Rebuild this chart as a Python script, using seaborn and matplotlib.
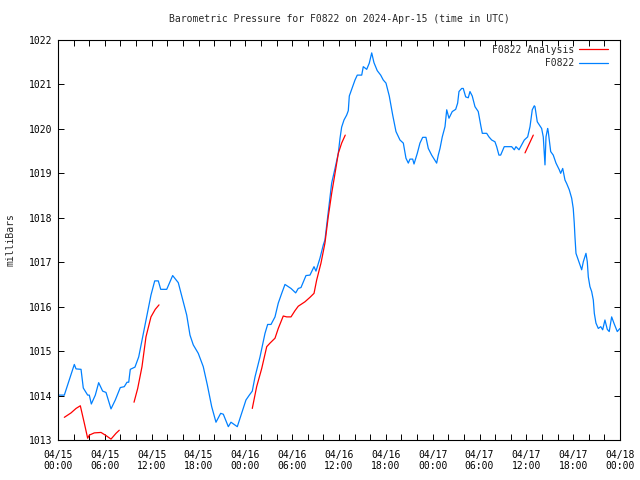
import matplotlib
matplotlib.use('Agg')
import matplotlib.pyplot as plt
from matplotlib.lines import Line2D
import seaborn as sns
import pandas as pd

# hours since 2024-04-15 00:00 UTC, pressure in millibars
obs_hours = [0.09, 0.81, 2.09, 2.31, 2.95, 3.24, 3.80, 4.01, 4.27, 4.78, 5.21, 5.72, 6.15, 6.79, 7.34,
             7.98, 8.49, 8.84, 9.06, 9.26, 9.86, 10.34, 10.85, 11.36, 11.91, 12.39, 12.85, 13.16, 13.93,
             14.69, 15.41, 16.05, 16.49, 16.91, 17.33, 17.97, 18.61, 19.13, 19.69, 20.24, 20.84, 21.18,
             21.82, 22.16, 22.97, 23.53, 24.08, 24.51, 24.89, 25.24, 25.88, 26.52, 26.86, 27.29, 27.80,
             28.22, 28.66, 29.08, 29.85, 30.45, 30.78, 31.13, 31.77, 32.28, 32.80, 33.05, 33.56, 33.99,
             34.20, 34.55, 35.06, 35.49, 35.91, 36.13, 36.34, 36.64, 36.98, 37.19, 37.32, 37.75, 38.05,
             38.34, 38.91, 39.11, 39.55, 39.88, 40.19, 40.48, 40.90, 41.34, 41.67, 42.02, 42.44, 42.88,
             43.30, 43.81, 44.24, 44.58, 44.88, 45.09, 45.44, 45.61, 46.03, 46.37, 46.72, 47.14, 47.44,
             47.87, 48.51, 48.72, 48.94, 49.23, 49.58, 49.80, 50.09, 50.51, 50.95, 51.20, 51.37, 51.72,
             51.92, 52.23, 52.56, 52.78, 53.07, 53.42, 53.84, 54.19, 54.36, 54.92, 55.21, 55.56, 55.98,
             56.20, 56.49, 56.71, 57.17, 58.12, 58.46, 58.67, 59.06, 59.40, 59.74, 60.17, 60.47, 60.76,
             61.02, 61.11, 61.40, 61.96, 62.17, 62.30, 62.39, 62.52, 62.73, 62.81, 63.12, 63.45, 63.80,
             64.22, 64.40, 64.66, 64.95, 65.17, 65.50, 65.81, 66.01, 66.14, 66.23, 66.36, 66.65, 67.09,
             67.30, 67.64, 67.81, 67.94, 68.15, 68.37, 68.58, 68.71, 68.92, 69.22, 69.53, 69.78, 70.07,
             70.37, 70.62, 70.93, 71.22, 71.65, 72.00]
obs_mbar = [1014.01, 1014.01, 1014.70, 1014.60, 1014.59, 1014.17, 1014.01, 1014.01, 1013.81, 1014.01,
            1014.29, 1014.10, 1014.07, 1013.70, 1013.90, 1014.18, 1014.20, 1014.30, 1014.30, 1014.59,
            1014.64, 1014.87, 1015.32, 1015.77, 1016.26, 1016.58, 1016.58, 1016.39, 1016.39, 1016.70,
            1016.54, 1016.11, 1015.81, 1015.36, 1015.14, 1014.95, 1014.65, 1014.24, 1013.75, 1013.40,
            1013.60, 1013.58, 1013.30, 1013.40, 1013.30, 1013.60, 1013.90, 1014.01, 1014.10, 1014.42,
            1014.87, 1015.40, 1015.60, 1015.60, 1015.77, 1016.08, 1016.30, 1016.50, 1016.41, 1016.31,
            1016.41, 1016.43, 1016.70, 1016.71, 1016.90, 1016.80, 1017.09, 1017.39, 1017.50, 1018.02,
            1018.78, 1019.11, 1019.45, 1019.79, 1020.04, 1020.20, 1020.31, 1020.41, 1020.74, 1020.95,
            1021.10, 1021.21, 1021.21, 1021.40, 1021.34, 1021.48, 1021.71, 1021.49, 1021.31, 1021.21,
            1021.10, 1021.03, 1020.74, 1020.31, 1019.94, 1019.75, 1019.68, 1019.34, 1019.23, 1019.32,
            1019.32, 1019.21, 1019.45, 1019.68, 1019.81, 1019.81, 1019.56, 1019.41, 1019.23, 1019.41,
            1019.56, 1019.82, 1020.05, 1020.43, 1020.24, 1020.39, 1020.44, 1020.58, 1020.84, 1020.91,
            1020.91, 1020.72, 1020.70, 1020.84, 1020.74, 1020.50, 1020.39, 1020.05, 1019.90, 1019.90,
            1019.82, 1019.75, 1019.71, 1019.60, 1019.41, 1019.41, 1019.60, 1019.60, 1019.53, 1019.60,
            1019.53, 1019.64, 1019.75, 1019.82, 1020.05, 1020.43, 1020.52, 1020.50, 1020.16, 1020.01,
            1019.82, 1019.45, 1019.19, 1019.82, 1020.01, 1019.94, 1019.49, 1019.41, 1019.23, 1019.08,
            1019.00, 1019.11, 1018.85, 1018.77, 1018.63, 1018.44, 1018.21, 1017.88, 1017.57, 1017.20,
            1017.05, 1016.83, 1017.01, 1017.20, 1017.01, 1016.67, 1016.45, 1016.34, 1016.15, 1015.85,
            1015.63, 1015.51, 1015.55, 1015.48, 1015.70, 1015.49, 1015.44, 1015.77, 1015.63, 1015.44,
            1015.51]

# analysis runs, one segment id per run
ana_run = [1] * 13 + [2] * 7 + [3] * 24 + [4] * 2
ana_hours = [0.81, 1.67, 2.31, 2.86, 3.37, 3.80, 4.01, 4.65, 5.51, 6.15, 6.79, 7.43, 7.85,
             9.74, 10.21, 10.76, 11.27, 11.91, 12.46, 12.94,
             24.89, 25.45, 26.10, 26.74, 27.16, 27.80, 28.22, 28.86, 29.30, 29.85, 30.36, 30.78,
             31.64, 32.28, 32.80, 33.14, 33.69, 34.20, 34.62, 35.06, 35.49, 35.91, 36.34, 36.80,
             59.83, 60.89]
ana_mbar = [1013.51, 1013.61, 1013.71, 1013.77, 1013.38, 1013.04, 1013.11, 1013.16, 1013.17, 1013.10,
            1013.02, 1013.15, 1013.22,
            1013.85, 1014.16, 1014.65, 1015.32, 1015.77, 1015.94, 1016.04,
            1013.71, 1014.20, 1014.61, 1015.10, 1015.18, 1015.29, 1015.51, 1015.79, 1015.77, 1015.77,
            1015.91, 1016.01, 1016.11, 1016.21, 1016.30, 1016.60, 1016.98, 1017.43, 1018.02, 1018.55,
            1019.00, 1019.45, 1019.68, 1019.86,
            1019.46, 1019.86]

tick_hours = [0, 6, 12, 18, 24, 30, 36, 42, 48, 54, 60, 66, 72]
tick_labels = ["04/15\n00:00", "04/15\n06:00", "04/15\n12:00", "04/15\n18:00",
               "04/16\n00:00", "04/16\n06:00", "04/16\n12:00", "04/16\n18:00",
               "04/17\n00:00", "04/17\n06:00", "04/17\n12:00", "04/17\n18:00",
               "04/18\n00:00"]
y_ticks = [1013, 1014, 1015, 1016, 1017, 1018, 1019, 1020, 1021, 1022]

BLUE = '#0080ff'
RED = '#ff0000'

sns.set_theme(style='ticks')
plt.rcParams['font.family'] = ['DejaVu Sans Mono']
plt.rcParams['font.size'] = 7

obs = pd.DataFrame({'hours': obs_hours, 'mbar': obs_mbar})
ana = pd.DataFrame({'hours': ana_hours, 'mbar': ana_mbar, 'run': ana_run})

fig = plt.figure(figsize=(6.4, 4.8), dpi=100)
ax = fig.add_axes([58 / 640, 40 / 480, 562 / 640, 400 / 480])

sns.lineplot(data=obs, x='hours', y='mbar', color=BLUE, lw=0.9, sort=False, ax=ax)
sns.lineplot(data=ana, x='hours', y='mbar', units='run', estimator=None, color=RED, lw=0.9,
             sort=False, ax=ax)

ax.set_xlim(0, 72)
ax.set_ylim(1013, 1022)
ax.set_xticks(tick_hours)
ax.set_xticklabels(tick_labels)
ax.set_xticks(range(0, 73, 2), minor=True)
ax.set_yticks(y_ticks)
ax.set_yticklabels([str(v) for v in y_ticks])

ax.tick_params(axis='both', which='both', direction='in', length=4.5, width=0.7,
               top=True, right=True, colors='black', labelsize=7)
ax.tick_params(axis='x', which='both', pad=7)
ax.tick_params(axis='y', pad=4)
for s in ax.spines.values():
    s.set_visible(True)
    s.set_color('black')
    s.set_linewidth(0.8)

ax.set_xlabel('')
ax.set_ylabel('milliBars', fontsize=7)
ax.yaxis.set_label_coords(-0.075, 0.5)
ax.set_title('Barometric Pressure for F0822 on 2024-Apr-15 (time in UTC)', fontsize=7, pad=13)

names = ['F0822 Analysis', 'F0822']
width = max(len(n) for n in names)
handles = [Line2D([], [], color=RED, lw=0.9), Line2D([], [], color=BLUE, lw=0.9)]
ax.legend(handles, [n.rjust(width) for n in names], loc='upper right',
          bbox_to_anchor=(1 - 7 / 562, 1), frameon=False,
          markerfirst=False, handlelength=3.0, handletextpad=0.5, labelspacing=0.35,
          borderaxespad=0.3, fontsize=7, borderpad=0.2)

fig.savefig('out.png', dpi=100, facecolor='white')
